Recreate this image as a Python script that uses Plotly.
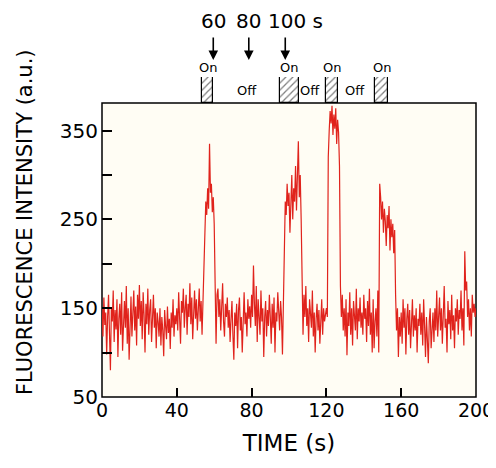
import plotly.graph_objects as go

# fluorescence trace, sampled every 0.5 s from 0 to 200 s
intensity = [
    150, 118, 162, 131, 145, 98, 140, 165, 122, 80, 150, 135, 170, 112, 148, 126, 160, 95, 138, 155,
    120, 168, 102, 142, 158, 128, 175, 110, 150, 92, 145, 163, 118, 140, 170, 125, 152, 108, 165, 138,
    176, 130, 158, 115, 168, 142, 100, 155, 132, 172, 120, 148, 160, 112, 138, 165, 128, 150, 105, 145,
    135, 118, 150, 108, 140, 125, 96, 148, 130, 115, 152, 122, 138, 104, 145, 128, 160, 118, 142, 132,
    150, 125, 168, 138, 110, 158, 145, 172, 128, 150, 165, 120, 155, 140, 178, 132, 162, 115, 148, 170,
    138, 160, 125, 150, 172, 135, 158, 120, 165, 190, 235, 270, 255, 285, 262, 335, 280, 290, 258, 275,
    245, 180, 110, 165, 172, 140, 160, 125, 150, 178, 135, 118, 155, 140, 162, 128, 148, 112, 138, 158,
    120, 92, 145, 130, 155, 105, 148, 162, 125, 140, 100, 150, 168, 132, 145, 118, 160, 138, 152, 128,
    165, 140, 198, 155, 130, 175, 112, 160, 145, 120, 170, 135, 150, 95, 140, 158, 118, 148, 130, 165,
    140, 110, 155, 128, 162, 100, 145, 135, 168, 150, 125, 158, 140, 98, 150, 230, 270, 255, 290, 265,
    280, 235, 262, 300, 250, 285, 270, 310, 260, 292, 338, 275, 300, 250, 155, 120, 165, 140, 175, 130,
    150, 112, 160, 135, 128, 170, 118, 145, 100, 138, 155, 125, 148, 110, 140, 160, 120, 150, 135, 145,
    150, 140, 320, 350, 372, 358, 378, 345, 368, 352, 375, 335, 362, 348, 310, 175, 140, 165, 125, 150,
    118, 160, 97, 145, 130, 168, 120, 150, 108, 158, 140, 125, 172, 115, 150, 135, 162, 128, 145, 120,
    165, 138, 150, 112, 158, 130, 172, 120, 145, 100, 160, 105, 135, 150, 118, 170, 100, 290, 275, 250,
    270, 235, 262, 248, 220, 255, 240, 265, 215, 250, 230, 245, 212, 238, 165, 125, 150, 95, 140, 118,
    145, 110, 160, 128, 150, 98, 138, 155, 120, 148, 105, 135, 160, 118, 142, 125, 150, 100, 138, 130,
    155, 120, 145, 108, 160, 130, 95, 140, 115, 88, 135, 150, 105, 128, 145, 112, 150, 125, 170, 118,
    140, 162, 125, 150, 110, 145, 175, 128, 138, 100, 158, 132, 148, 115, 165, 125, 142, 105, 150, 135,
    160, 120, 148, 138, 170, 125, 150, 108, 214, 170, 180, 140, 160, 125, 150, 118, 165, 145, 155, 140,
    150,
]
t = [i * 0.5 for i in range(len(intensity))]

# light on/off periods (s)
on_start = [53.5, 95, 120, 146]
on_end = [59.5, 105.3, 126.4, 153]
off_x = [77.5, 111, 135.5]

arrow_x = [59.5, 78.5, 98]
arrow_text = ['60', '80', '100 s']

xticks = [0, 40, 80, 120, 160, 200]
yticks = [50, 100, 150, 200, 250, 300, 350]
ylabels = ['50', '', '150', '', '250', '', '350']

on_mid = [(a + b) / 2 for a, b in zip(on_start, on_end)]
on_w = [b - a for a, b in zip(on_start, on_end)]

font = 'DejaVu Sans'
# page body adds an 8px margin, so figure is 8px smaller and margins shifted
H = 320  # plot area height incl. the on/off strip
BOT = 389  # bottom of plot area in figure px
top_dom = 294 / H


def py(px):
    # figure pixel row -> paper y
    return (BOT - px) / H


fig = go.Figure()
fig.add_trace(go.Scatter(x=t, y=intensity, mode='lines',
                         line=dict(color='#e0231c', width=1.2), showlegend=False))
fig.add_trace(go.Bar(x=on_mid, y=[1] * len(on_mid), width=on_w, base=0, yaxis='y2',
                     showlegend=False,
                     marker=dict(color='white', line=dict(color='black', width=1.2),
                                 pattern=dict(shape='/', fgcolor='black', size=5, solidity=0.25))))

fig.add_shape(type='rect', xref='x domain', yref='y domain', x0=0, x1=1, y0=0, y1=1,
              fillcolor='#fffdf4', line=dict(color='black', width=1.5), layer='below')

ann = []
for m in on_mid:
    ann.append(dict(x=m, y=1.0, xref='x', yref='paper', text='On', showarrow=False,
                    xanchor='center', yanchor='bottom',
                    font=dict(size=13, family=font, color='black')))
for o in off_x:
    ann.append(dict(x=o, y=py(83), xref='x', yref='paper', text='Off', showarrow=False,
                    xanchor='center', yanchor='middle',
                    font=dict(size=13, family=font, color='black')))
for xa, tx in zip(arrow_x, arrow_text):
    ann.append(dict(x=xa, y=py(52), xref='x', yref='paper', text='', showarrow=True,
                    ax=0, ay=-24, arrowhead=2, arrowsize=1.2, arrowwidth=1.6, arrowcolor='black'))
    ann.append(dict(x=xa, y=py(13), xref='x', yref='paper', text=tx, showarrow=False,
                    xanchor='center', yanchor='middle',
                    xshift=10 if tx.endswith('s') else 0,
                    font=dict(size=20, family=font, color='black')))
ann.append(dict(x=(17 - 94) / 374, y=py(214), xref='paper', yref='paper',
                text='FLUORESCENCE INTENSITY (a.u.)', textangle=-90, showarrow=False,
                xanchor='center', yanchor='middle',
                font=dict(size=21, family=font, color='black')))

fig.update_layout(
    width=488, height=460,
    margin=dict(l=94, r=20, t=69, b=71),
    paper_bgcolor='white', plot_bgcolor='white',
    font=dict(family=font, color='black'),
    bargap=0,
    xaxis=dict(range=[0, 200], tickvals=xticks, ticks='inside', ticklen=9, tickwidth=1.5,
               tickcolor='black', showgrid=False, zeroline=False, showline=False,
               tickfont=dict(size=19), anchor='y', automargin=False,
               title=dict(text='TIME (s)', font=dict(size=23), standoff=14)),
    yaxis=dict(domain=[0, top_dom], range=[50, 381], tickvals=yticks, ticktext=ylabels,
               ticks='inside', ticklen=10, tickwidth=1.5, tickcolor='black', automargin=False,
               ticklabelstandoff=3,
               showgrid=False, zeroline=False, showline=False, tickfont=dict(size=20)),
    yaxis2=dict(domain=[top_dom, 1], range=[0, 1], visible=False, anchor='x'),
    annotations=ann,
)

fig.write_html('out.html')
